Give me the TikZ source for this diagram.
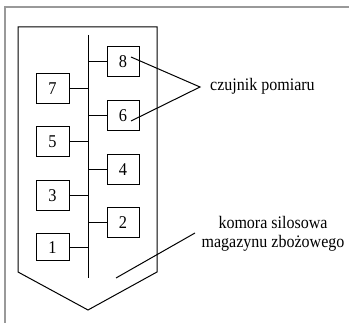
\documentclass[tikz,border=0pt]{standalone}
\usepackage{fontspec}
\setmainfont{Liberation Serif}
\newfontfamily\narrowserif[FakeStretch=0.91]{Liberation Serif}
\begin{document}
\begin{tikzpicture}[x=1pt,y=-1pt,
  ln/.style={line width=1pt,black},
  sbox/.style={draw,line width=1pt,minimum width=32pt,minimum height=30pt,inner sep=0pt,font=\narrowserif\fontsize{18}{20}\selectfont},
  lbl/.style={font=\narrowserif\fontsize{17.6}{19.5}\selectfont,inner sep=0pt}]
\useasboundingbox (0,0) rectangle (349,323);
% outer frame
\draw[line width=1.5pt,gray!80] (5,323) -- (5,7) -- (349,7);
% silo
\draw[ln] (18,272) -- (18,27) -- (157,27) -- (157,272) -- (88,310) -- cycle;
% bus
\coordinate (bt) at (88,35);
\coordinate (bb) at (88,278);
\draw[ln] (bt) -- (bb);
% boxes
\node[sbox] (b8) at (123,62) {8};
\node[sbox] (b6) at (123,116) {6};
\node[sbox] (b4) at (123,169.5) {4};
\node[sbox] (b2) at (123,222.5) {2};
\node[sbox,minimum width=33pt] (b7) at (52.5,89) {7};
\node[sbox,minimum width=33pt] (b5) at (52.5,142) {5};
\node[sbox,minimum width=33pt] (b3) at (52.5,196) {3};
\node[sbox,minimum width=33pt,minimum height=27pt] (b1) at (52.5,247.5) {1};
% connectors to bus
\foreach \b in {b8,b6,b4,b2}{\draw[ln] (\b.west) -- (\b.west -| bt);}
\foreach \b in {b7,b5,b3,b1}{\draw[ln] (\b.east) -- (\b.east -| bt);}
% sensor label
\coordinate (apex) at (200,87);
\coordinate (s8) at (131,57);
\coordinate (s6) at (131,121);
\draw[ln] (s8) -- (apex) -- (s6);
\node[lbl,anchor=west] (cz) at (210,86) {czujnik pomiaru};
% chamber label
\coordinate (k1) at (116,278);
\coordinate (k2) at (195,233);
\draw[ln] (k1) -- (k2);
\node[lbl,align=center] (kom) at (273,234) {komora silosowa\\magazynu zbożowego};
\end{tikzpicture}
\end{document}
